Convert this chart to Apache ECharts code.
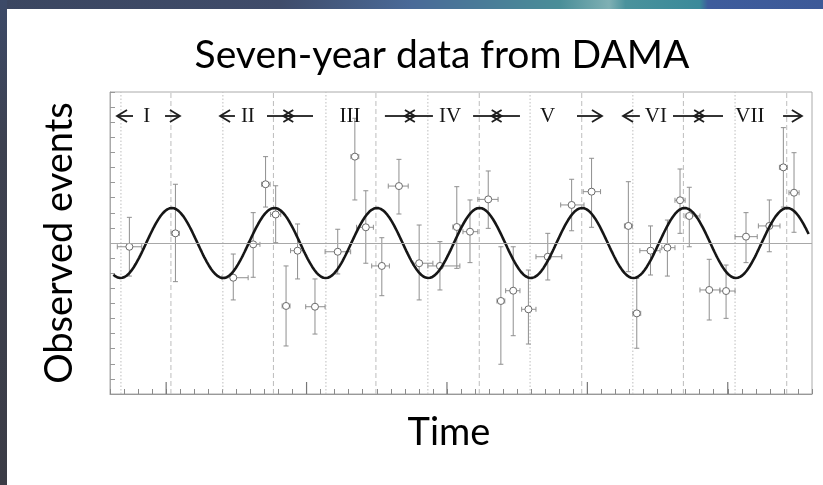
<!DOCTYPE html>
<html><head><meta charset="utf-8">
<script src="https://cdn.jsdelivr.net/npm/echarts@6/dist/echarts.min.js"></script>
<style>html,body{margin:0;padding:0;background:#fff}#c{width:823px;height:485px}</style>
</head><body><div id="c"></div>
<script>
// ---- data (time in days, residual rate) ----
const obsDay = [369,533,739,810,854,890,968,927,1030,1111,1172,1211,1268,1329,1401,1475,1535,1582,1647,1692,1736,1790,1859,1944,2015,2146,2176,2225,2285,2330,2363,2434,2494,2565,2648,2698,2736];
const obsVal = [-0.0025,0.0064,-0.0230,-0.0009,0.0389,0.0189,-0.0051,-0.0417,-0.0422,-0.0058,0.0572,0.0104,-0.0152,0.0377,-0.0134,-0.0152,0.0106,0.0075,0.0289,-0.0384,-0.0316,-0.0439,-0.0091,0.0252,0.0340,0.0113,-0.0466,-0.0051,-0.0031,0.0283,0.0179,-0.0311,-0.0318,0.0042,0.0113,0.0501,0.0333];
const dayLo  = [326,518,699,791,840,872,943,913,997,1066,1158,1178,1232,1291,1379,1432,1521,1557,1610,1678,1709,1766,1817,1905,1985,2132,2162,2187,2265,2312,2348,2401,2472,2526,2609,2684,2718];
const dayHi  = [413,547,792,834,870,908,988,941,1066,1157,1186,1238,1295,1362,1450,1546,1549,1610,1682,1706,1760,1817,1909,1988,2047,2160,2190,2259,2312,2348,2401,2472,2526,2605,2686,2712,2754];
const valLo  = [-0.0219,-0.0256,-0.0377,-0.0227,0.0238,0.0002,-0.0238,-0.0682,-0.0603,-0.0205,0.0285,-0.0134,-0.0349,0.0192,-0.0377,-0.0311,-0.0168,-0.0130,0.0097,-0.0803,-0.0614,-0.0669,-0.0245,0.0081,0.0104,-0.0190,-0.0697,-0.0212,-0.0219,0.0064,-0.0025,-0.0510,-0.0499,-0.0130,-0.0058,0.0238,0.0071];
const valHi  = [0.0170,0.0389,-0.0073,0.0201,0.0572,0.0379,0.0126,-0.0152,-0.0238,0.0091,0.0826,0.0346,0.0035,0.0554,0.0119,0.0009,0.0373,0.0285,0.0477,-0.0025,-0.0025,-0.0179,0.0064,0.0422,0.0561,0.0406,-0.0234,0.0113,0.0152,0.0490,0.0369,-0.0108,-0.0146,0.0201,0.0285,0.0764,0.0598];

const cycleBoundaryDays = [339,702,1069,1432,1796,2162,2526];   // dotted lines
const juneSecondDays    = [517,882,1247,1615,1980,2342,2710];   // dashed lines
const cycleNames   = ['I','II','III','IV','V','VI','VII'];
const cycleNameDay = [431,791,1155,1511,1858,2244,2579];
const arrowTail = [382,496,745,859,1023,1279,1450,1593,1760,1963,2187,2305,2483,2697];
const arrowTip  = [325,549,692,953,917,1386,1350,1695,1659,2052,2127,2416,2380,2764];
const labelRowValue = 0.0841;
const majorTickDays = [500,1000,1500,2000,2500];

// cosine model: A cos(2pi (t - t0)/T)
const modelAmp = 0.0232, modelPeriod = 365.25, modelPhase = 155;
const modelStart = 312, modelEnd = 2788, modelStep = 4;

const X_MIN = 300, X_MAX = 2800, Y_MIN = -0.1, Y_MAX = 0.1;

const modelCurve = [];
for (let t = modelStart; t <= modelEnd; t += modelStep) {
  modelCurve.push([t, modelAmp * Math.cos(2 * Math.PI * (t - modelPhase) / modelPeriod)]);
}

const pointData = obsDay.map((d, i) => [d, obsVal[i], dayLo[i], dayHi[i], valLo[i], valHi[i]]);
const vlineData = cycleBoundaryDays.map(d => [d, 0]).concat(juneSecondDays.map(d => [d, 1]));
const arrowData = arrowTail.map((t, i) => [t, arrowTip[i], labelRowValue]);
const nameData = cycleNames.map((n, i) => [cycleNameDay[i], labelRowValue, n]);

const chart = echarts.init(document.getElementById('c'), null, {renderer: 'canvas'});
const FONT = 'Lato, "Open Sans", sans-serif';

const option = {
  animation: false,
  backgroundColor: '#fff',
  grid: {left: 110, top: 92, width: 702, height: 302, show: true, borderColor: '#aaa', borderWidth: 1, backgroundColor: '#fff'},
  xAxis: {
    type: 'value', min: X_MIN, max: X_MAX, interval: 50,
    axisLine: {show: true, onZero: false, lineStyle: {color: '#999', width: 1}},
    axisTick: {show: true, inside: true, length: 5, lineStyle: {color: '#8a8a8a'}},
    axisLabel: {show: false}, splitLine: {show: false}
  },
  yAxis: {
    type: 'value', min: Y_MIN, max: Y_MAX, interval: 0.01,
    axisLine: {show: true, onZero: false, lineStyle: {color: '#aaa', width: 1}},
    axisTick: {show: true, inside: true, length: 5, lineStyle: {color: '#999'}},
    axisLabel: {show: false}, splitLine: {show: false}
  },
  graphic: [
    {type: 'rect', left: 0, top: 0, shape: {width: 823, height: 9}, z: 100,
     style: {fill: new echarts.graphic.LinearGradient(0, 0, 1, 0, [
       {offset: 0, color: '#3b4660'}, {offset: 0.34, color: '#404c6a'}, {offset: 0.5, color: '#4a6a98'},
       {offset: 0.68, color: '#4a8e98'}, {offset: 0.74, color: '#7fb0b4'}, {offset: 0.76, color: '#4a929c'},
       {offset: 0.85, color: '#3a8a9a'}, {offset: 0.86, color: '#3e5c9c'}, {offset: 1, color: '#3d5a98'}])}},
    {type: 'rect', left: 0, top: 0, shape: {width: 7, height: 485}, z: 100,
     style: {fill: new echarts.graphic.LinearGradient(0, 0, 0, 1, [
       {offset: 0, color: '#3c4a68'}, {offset: 0.3, color: '#3d4150'}, {offset: 1, color: '#3b3c46'}])}},
    {type: 'text', x: 442, y: 55, z: 100,
     style: {text: 'Seven-year data from DAMA', font: '39px ' + FONT, fill: '#000', align: 'center', verticalAlign: 'middle'}},
    {type: 'text', x: 60, y: 243, rotation: Math.PI / 2, z: 100,
     style: {text: 'Observed events', font: '38px ' + FONT, fill: '#000', align: 'center', verticalAlign: 'middle'}},
    {type: 'text', x: 449, y: 433, z: 100,
     style: {text: 'Time', font: '38px ' + FONT, fill: '#000', align: 'center', verticalAlign: 'middle'}}
  ],
  series: [
    { // vertical reference lines
      type: 'custom', z: 1, silent: true, data: vlineData,
      renderItem: (params, api) => {
        const d = api.value(0);
        const p1 = api.coord([d, Y_MIN]), p2 = api.coord([d, Y_MAX]);
        return {type: 'line', shape: {x1: p1[0], y1: p1[1], x2: p2[0], y2: p2[1]},
          style: {stroke: '#bdbdbd', lineWidth: 1, lineDash: api.value(1) === 0 ? [1.5, 2] : [5, 3]}};
      }
    },
    { // major x ticks
      type: 'custom', z: 2, silent: true, data: majorTickDays.map(d => [d]),
      renderItem: (params, api) => {
        const p = api.coord([api.value(0), Y_MIN]);
        return {type: 'line', shape: {x1: p[0], y1: p[1], x2: p[0], y2: p[1] - 12}, style: {stroke: '#777', lineWidth: 1.2}};
      }
    },
    { // data with error bars
      type: 'custom', z: 3, silent: true, data: pointData,
      renderItem: (params, api) => {
        const x = api.value(0), y = api.value(1);
        const c = api.coord([x, y]);
        const l = api.coord([api.value(2), y]), r = api.coord([api.value(3), y]);
        const b = api.coord([x, api.value(4)]), t = api.coord([x, api.value(5)]);
        const st = {stroke: '#8f8f8f', lineWidth: 1};
        const cap = 2.5;
        return {type: 'group', children: [
          {type: 'line', shape: {x1: c[0], y1: t[1], x2: c[0], y2: b[1]}, style: st},
          {type: 'line', shape: {x1: c[0] - cap, y1: t[1], x2: c[0] + cap, y2: t[1]}, style: st},
          {type: 'line', shape: {x1: c[0] - cap, y1: b[1], x2: c[0] + cap, y2: b[1]}, style: st},
          {type: 'line', shape: {x1: l[0], y1: c[1], x2: r[0], y2: c[1]}, style: st},
          {type: 'line', shape: {x1: l[0], y1: c[1] - cap, x2: l[0], y2: c[1] + cap}, style: st},
          {type: 'line', shape: {x1: r[0], y1: c[1] - cap, x2: r[0], y2: c[1] + cap}, style: st},
          {type: 'circle', shape: {cx: c[0], cy: c[1], r: 3.5}, style: {fill: '#fff', stroke: '#6a6a6a', lineWidth: 1}}
        ]};
      }
    },
    { // cosine model
      type: 'line', z: 4, data: modelCurve, showSymbol: false, symbol: 'none', silent: true,
      lineStyle: {color: '#161616', width: 2.6},
      markLine: {silent: true, symbol: 'none', label: {show: false},
        lineStyle: {color: '#a8a8a8', width: 1, type: 'solid'}, data: [{yAxis: 0}]}
    },
    { // arrows of the cycle labels
      type: 'custom', z: 5, silent: true, data: arrowData,
      renderItem: (params, api) => {
        const a = api.coord([api.value(0), api.value(2)]), b = api.coord([api.value(1), api.value(2)]);
        const dir = b[0] > a[0] ? 1 : -1;
        const st = {stroke: '#1e1e1e', lineWidth: 1.8, fill: null};
        return {type: 'group', children: [
          {type: 'line', shape: {x1: a[0], y1: a[1], x2: b[0], y2: b[1]}, style: st},
          {type: 'polyline', shape: {points: [[b[0] - dir * 10, b[1] - 6], [b[0], b[1]], [b[0] - dir * 10, b[1] + 6]]}, style: st}
        ]};
      }
    },
    { // cycle names
      type: 'custom', z: 6, silent: true, data: nameData,
      renderItem: (params, api) => {
        const p = api.coord([api.value(0), api.value(1)]);
        return {type: 'text', x: p[0], y: p[1],
          style: {text: nameData[params.dataIndex][2], font: '21px "Liberation Serif", "DejaVu Serif", serif',
            fill: '#151515', align: 'center', verticalAlign: 'middle'}};
      }
    }
  ]
};
chart.setOption(option);
</script>
</body></html>
